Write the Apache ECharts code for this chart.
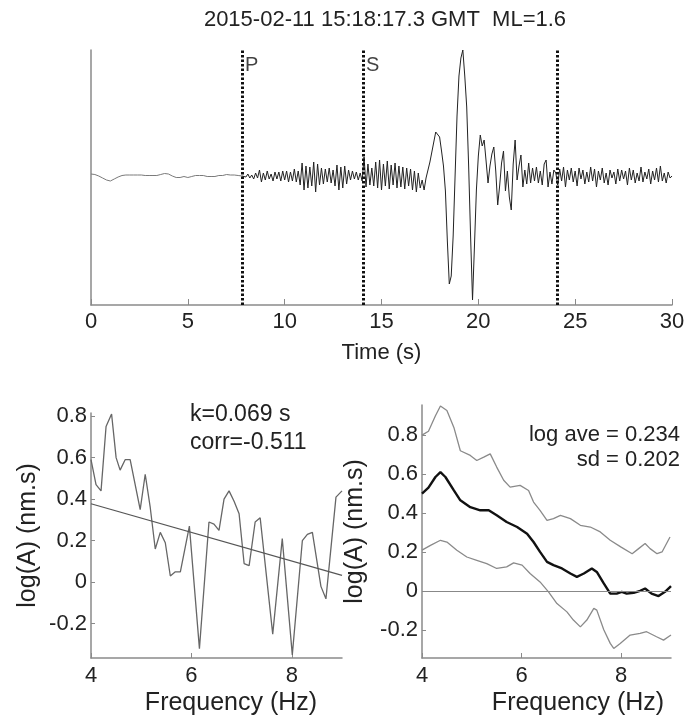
<!DOCTYPE html>
<html>
<head>
<meta charset="utf-8">
<script src="https://cdn.jsdelivr.net/npm/echarts@6/dist/echarts.min.js"></script>
<style>
html, body { margin: 0; background: #fff; }
#show { width: 686px; height: 719px; }
</style>
</head>
<body>
<div id="show"></div>
<script>
var myChart = echarts.init(document.getElementById("show"));

// seismogram, one sample every 0.1 s (arbitrary counts)
var dt = 0.1;
var trace = [
    2, 2, 1.5, 1, 0, -1, -2, -3, -4, -4.5,
    -5, -4, -3, -2, -1, 0, 0.5, 0, 1, 0.5,
    1, 1.5, 1, 0.5, 1, 0.5, 1, 0, 0.5, 1,
    0.5, 1, 0.5, 0, 0.5, 1, 1.5, 2, 2.5, 3,
    2, 1, 0, -1, -1.5, -1, -1.5, -1, -0.5, -1,
    -1.5, -1, -0.5, 0, 0.5, 0, 0.5, 1, 0.5, 0,
    -0.5, -1, -0.5, 0, -0.5, 0, 0.5, 1, 0.5, 1,
    1.5, 2, 1, 0.5, 1, 1.5, 0.5, 0, 0, 1,
    -1, 2, -2, 1, -3, 3, -2, 6, -6, 3,
    -4, 5, -3, 2, -5, 4, -3, 4, -5, 5,
    -4, 5, -6, 4, -5, 7, -6, 5, -9, 13,
    -14, 10, -12, 9, -10, 14, -16, 12, -9, 8,
    -8, 7, -6, 8, -7, 6, -10, 11, -14, 9,
    -12, 10, -8, 6, -4, 5, -3, 4, -4, 3,
    -5, 19, -11, 12, -9, 8, -10, 14, -12, 16,
    -14, 12, -10, 15, -13, 11, -9, 13, -12, 10,
    -11, 9, -13, 8, -10, 7, -14, 5, -16, 3,
    -12, -4, -14, -2, 6, 14, 24, 34, 44, 46,
    39, 25, 10, -15, -65, -108, -100, -60, 0, 60,
    100, 118, 126, 100, 69, 10, -60, -124, -70, -14,
    20, 41, 30, 36, 15, -7, 10, 22, 29, 5,
    -29, -10, 13, 25, -15, 5, -21, -34, 12, 36,
    -4, 10, 21, -11, 6, -8, 13, -7, 8, -5,
    9, -7, 5, -9, 12, 16, -11, 4, -8, 6,
    3, -9, 7, -5, 9, -11, 6, -4, 8, -6,
    5, -10, 8, -3, 6, -8, 4, -6, 9, -5,
    7, -11, 5, -4, 8, -7, 3, -9, 6, -2,
    4, -8, 7, -5, 6, -3, 5, -9, 8, -4,
    6, -7, 3, -5, 9, -6, 4, -3, 7, -8,
    5, -4, 8, -6, 10, -5, 3, -7, 4, -2,
    0
];
var pIndex = 78;
var phaseTimes = [7.8, 14.04, 24.06];
var phaseNames = ["P", "S", ""];

// left spectrum and fitted line
var specFreq = [4.00, 4.10, 4.20, 4.30, 4.41, 4.50, 4.58, 4.68, 4.78, 4.98, 5.08, 5.18, 5.28, 5.38, 5.48,
    5.58, 5.68, 5.78, 5.96, 6.16, 6.35, 6.45, 6.55, 6.65, 6.75, 6.85, 6.95, 7.05, 7.15, 7.27, 7.37,
    7.62, 7.81, 8.01, 8.21, 8.31, 8.41, 8.58, 8.68, 8.88, 9.00];
var specAmp = [0.59, 0.47, 0.44, 0.75, 0.81, 0.60, 0.54, 0.59, 0.59, 0.35, 0.52, 0.36, 0.16, 0.24, 0.19,
    0.03, 0.05, 0.05, 0.27, -0.32, 0.29, 0.28, 0.25, 0.40, 0.44, 0.39, 0.33, 0.09, 0.08, 0.29, 0.31,
    -0.25, 0.21, -0.35, 0.20, 0.23, 0.24, -0.02, -0.08, 0.41, 0.44];
var fitFreq = [4, 9];
var fitAmp = [0.378, 0.033];

// right: average spectrum and +/- one sd
var meanFreq = [4.00, 4.13, 4.27, 4.37, 4.47, 4.64, 4.77, 4.97, 5.17, 5.34, 5.50, 5.70, 5.91, 6.11, 6.24,
    6.37, 6.51, 6.64, 6.81, 6.98, 7.11, 7.25, 7.41, 7.51, 7.65, 7.78, 7.91, 8.01, 8.11, 8.25, 8.38,
    8.48, 8.61, 8.75, 8.88, 9.00];
var meanAmp = [0.50, 0.53, 0.585, 0.61, 0.585, 0.516, 0.465, 0.43, 0.414, 0.414, 0.388, 0.354, 0.328, 0.294, 0.251,
    0.20, 0.149, 0.132, 0.115, 0.089, 0.072, 0.089, 0.115, 0.097, 0.038, -0.014, -0.014, -0.005, -0.014, -0.01, 0,
    0.012, -0.014, -0.027, -0.005, 0.024];
var upFreq = [4.00, 4.13, 4.27, 4.37, 4.50, 4.64, 4.77, 4.97, 5.10, 5.24, 5.37, 5.50, 5.64, 5.77, 5.97,
    6.14, 6.24, 6.37, 6.51, 6.64, 6.78, 6.98, 7.18, 7.38, 7.58, 7.78, 7.99, 8.22, 8.35, 8.48, 8.58,
    8.72, 8.82, 8.98];
var upAmp = [0.80, 0.82, 0.90, 0.95, 0.927, 0.84, 0.72, 0.696, 0.67, 0.687, 0.704, 0.636, 0.568, 0.533, 0.542,
    0.516, 0.456, 0.414, 0.362, 0.371, 0.388, 0.371, 0.337, 0.328, 0.303, 0.26, 0.226, 0.191, 0.217, 0.243, 0.217,
    0.191, 0.20, 0.277];
var lowFreq = [4.00, 4.17, 4.37, 4.50, 4.70, 4.90, 5.10, 5.30, 5.50, 5.70, 5.84, 6.01, 6.17, 6.37, 6.54,
    6.71, 6.91, 7.04, 7.18, 7.31, 7.45, 7.51, 7.65, 7.78, 7.85, 7.98, 8.18, 8.38, 8.51, 8.71, 8.85, 9.00];
var lowAmp = [0.209, 0.234, 0.26, 0.251, 0.209, 0.174, 0.157, 0.14, 0.115, 0.123, 0.144, 0.132, 0.089, 0.046, -0.005,
    -0.065, -0.108, -0.15, -0.185, -0.15, -0.09, -0.099, -0.20, -0.27, -0.296, -0.27, -0.227, -0.219, -0.21, -0.236, -0.253, -0.227];

var ampTicks = [-0.2, 0, 0.2, 0.4, 0.6, 0.8];
var freqTicks = [4, 6, 8];

function pairs(xs, ys) {
    return xs.map(function (x, i) { return [x, ys[i]]; });
}
function traceData(from, to) {
    var out = [];
    for (var i = from; i < to; i++) out.push([+(i * dt).toFixed(2), trace[i]]);
    return out;
}

var font = "Liberation Sans, Arial, Helvetica, sans-serif";
var axisGrey = "#8a8a8a";
var textCol = "#222";

function freqAxis(idx, pad) {
    return {
        type: "value", gridIndex: idx, min: 4, max: 9,
        name: "Frequency (Hz)", nameLocation: "middle", nameGap: 33,
        nameTextStyle: { fontSize: 25, color: textCol, fontFamily: font, padding: [0, 0, 0, pad] },
        axisLine: { onZero: false, lineStyle: { color: axisGrey, width: 1.5 } },
        axisTick: { inside: true, length: 5, customValues: freqTicks, lineStyle: { color: axisGrey } },
        axisLabel: { customValues: freqTicks, fontSize: 22, color: textCol, fontFamily: font, margin: 7 },
        splitLine: { show: false }
    };
}
function ampAxis(idx, lo, hi, gap) {
    return {
        type: "value", gridIndex: idx, min: lo, max: hi,
        name: "log(A) (nm.s)", nameLocation: "middle", nameGap: gap,
        nameTextStyle: { fontSize: 25, color: textCol, fontFamily: font },
        axisLine: { show: true, onZero: false, lineStyle: { color: axisGrey, width: 1.5 } },
        axisTick: { show: true, inside: true, length: 4, customValues: ampTicks, lineStyle: { color: axisGrey } },
        axisLabel: {
            customValues: ampTicks, fontSize: 22, color: textCol, fontFamily: font, margin: 4,
            formatter: function (v) { return String(Math.round(v * 10) / 10); }
        },
        splitLine: { show: false }
    };
}

myChart.setOption(option = {
    animation: false,
    backgroundColor: "#fff",
    title: {
        text: "2015-02-11 15:18:17.3 GMT  ML=1.6",
        left: 380, top: 4, textAlign: "center",
        textStyle: { fontSize: 22, fontWeight: "normal", color: textCol, fontFamily: font }
    },
    grid: [
        { left: 91, top: 50, width: 581, height: 255, outerBoundsMode: "none" },
        { left: 91, top: 413, width: 251, height: 245, outerBoundsMode: "none" },
        { left: 422, top: 405, width: 249, height: 253, outerBoundsMode: "none" }
    ],
    xAxis: [
        {
            type: "value", gridIndex: 0, min: 0, max: 30, interval: 5,
            name: "Time (s)", nameLocation: "middle", nameGap: 37,
            nameTextStyle: { fontSize: 22, color: textCol, fontFamily: font },
            axisLine: { onZero: false, lineStyle: { color: axisGrey, width: 1.5 } },
            axisTick: { inside: true, length: 6, lineStyle: { color: axisGrey } },
            axisLabel: { fontSize: 22, color: textCol, fontFamily: font, margin: 6 },
            splitLine: { show: false }
        },
        freqAxis(1, 29),
        freqAxis(2, 63)
    ],
    yAxis: [
        {
            type: "value", gridIndex: 0, min: -129, max: 126,
            axisLine: { show: true, onZero: false, lineStyle: { color: axisGrey, width: 1.5 } },
            axisTick: { show: false },
            axisLabel: { show: false },
            splitLine: { show: false }
        },
        ampAxis(1, -0.365, 0.815, 50),
        ampAxis(2, -0.345, 0.955, 54)
    ],
    graphic: [
        {
            type: "text", left: 190, top: 401,
            style: { text: "k=0.069 s\ncorr=-0.511", font: "23px " + font, fill: textCol, lineHeight: 28 }
        },
        {
            type: "text", right: 6, top: 422,
            style: { text: "log ave = 0.234", font: "22px " + font, fill: textCol, lineHeight: 25 }
        },
        {
            type: "text", right: 6, top: 447,
            style: { text: "sd = 0.202", font: "22px " + font, fill: textCol, lineHeight: 25 }
        }
    ],
    series: [
        {
            type: "line", xAxisIndex: 0, yAxisIndex: 0, showSymbol: false, z: 3,
            data: traceData(0, pIndex + 1),
            lineStyle: { color: "#7a7a7a", width: 1 }
        },
        {
            type: "line", xAxisIndex: 0, yAxisIndex: 0, showSymbol: false, z: 3,
            data: traceData(pIndex, trace.length),
            lineStyle: { color: "#222", width: 1 },
            markLine: {
                silent: true, symbol: "none", label: { show: false },
                lineStyle: { color: "#111", width: 3, type: [2.5, 2], opacity: 1 },
                data: phaseTimes.map(function (t) { return { xAxis: t }; })
            }
        },
        {
            type: "scatter", xAxisIndex: 0, yAxisIndex: 0, symbolSize: 0, silent: true,
            data: phaseTimes.map(function (t, i) { return { value: [t, 111], name: phaseNames[i] }; }),
            itemStyle: { color: "#111" },
            label: {
                show: true, position: "right", distance: 3, formatter: "{b}",
                fontSize: 20, color: "#111", fontFamily: font
            }
        },
        {
            type: "line", xAxisIndex: 1, yAxisIndex: 1, showSymbol: false,
            data: pairs(specFreq, specAmp),
            lineStyle: { color: "#666", width: 1.3 }
        },
        {
            type: "line", xAxisIndex: 1, yAxisIndex: 1, showSymbol: false,
            data: pairs(fitFreq, fitAmp),
            lineStyle: { color: "#555", width: 1.2 }
        },
        {
            type: "line", xAxisIndex: 2, yAxisIndex: 2, showSymbol: false,
            data: pairs(upFreq, upAmp),
            lineStyle: { color: "#8a8a8a", width: 1.3 }
        },
        {
            type: "line", xAxisIndex: 2, yAxisIndex: 2, showSymbol: false,
            data: pairs(lowFreq, lowAmp),
            lineStyle: { color: "#8a8a8a", width: 1.3 }
        },
        {
            type: "line", xAxisIndex: 2, yAxisIndex: 2, showSymbol: false, z: 4,
            data: pairs(meanFreq, meanAmp),
            lineStyle: { color: "#111", width: 2.4 },
            markLine: {
                silent: true, symbol: "none", label: { show: false },
                lineStyle: { color: "#888", width: 1, type: "solid" },
                data: [{ yAxis: 0 }]
            }
        }
    ]
});
</script>
</body>
</html>
